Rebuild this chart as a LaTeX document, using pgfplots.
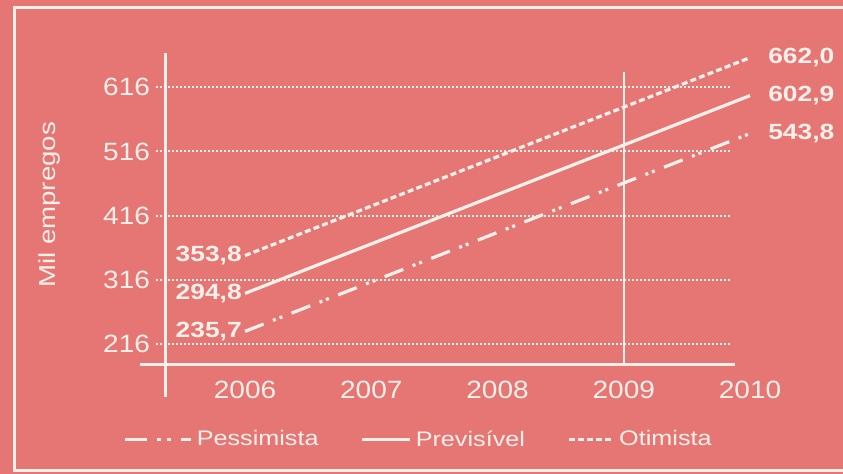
\documentclass[border=0pt]{standalone}
\usepackage{pgfplots}
\pgfplotsset{compat=1.18}
\usepackage{fontspec}
\setmainfont{Liberation Sans}[FakeStretch=1.2]
\newfontfamily\tickfont{Liberation Sans}[FakeStretch=1.12]
\definecolor{bg}{RGB}{229,118,116}
\definecolor{fg}{RGB}{255,240,234}
\pgfplotsset{
  pessleg/.style={legend image code/.code={\draw[##1, dash pattern=on 11pt off 5pt on 2pt off 3pt on 2pt off 5pt on 5pt off 5pt] (0pt,0pt) -- (33pt,0pt);}},
  prevleg/.style={legend image code/.code={\draw[##1] (0pt,0pt) -- (24pt,0pt);}},
  otimleg/.style={legend image code/.code={\draw[##1] (0pt,0pt) -- (22.5pt,0pt);}},
}
\begin{document}
\begin{tikzpicture}
\fill[bg] (-83pt,-54.5pt) rectangle (338.5pt,182.5pt);
\draw[fg, line width=1.5pt] (345pt,178.5pt) -- (-75.5pt,178.5pt) -- (-75.5pt,-53pt) -- (345pt,-53pt);
\begin{axis}[
  scale only axis, width=317pt, height=156pt,
  xmin=2005.374, xmax=2010.396, ymin=183.3, ymax=669.3,
  axis line style={draw=none}, major tick length=0pt,
  xtick={2006,2007,2008,2009,2010}, ytick={216,316,416,516,616},
  xticklabels={2006,2007,2008,2009,2010},
  yticklabels={216,316,416,516,616},
  ticklabel style={text=fg, font=\tickfont\fontsize{12.5}{14}\selectfont},
  yticklabel style={xshift=-4.5pt},
  xticklabel style={yshift=-4.5pt},
  /pgf/number format/assume math mode=true,
  clip=false,
  ylabel={Mil empregos},
  every axis y label/.style={at={(rel axis cs:-0.183,0.513)}, rotate=90, anchor=center, text=fg, font=\fontsize{11.5}{13}\selectfont},
  legend columns=3,
  legend style={at={(rel axis cs:0.400,-0.24)}, anchor=center, draw=none, fill=none, text=fg,
    font=\fontsize{10.5}{12}\selectfont, /tikz/every even column/.append style={column sep=19pt}},
]
% grid lines
\foreach \yy in {216,316,416,516,616} {
  \edef\tmp{\noexpand\draw[fg, line width=1pt, dash pattern=on 1pt off 1pt] (axis cs:2005.295,\yy) -- (axis cs:2009.857,\yy);}
  \tmp
}
% axes and reference line
\draw[fg, line width=1.5pt] (axis cs:2005.374,133.4) -- (axis cs:2005.374,669.3);
\draw[fg, line width=1.5pt] (axis cs:2005.168,183.3) -- (axis cs:2009.881,183.3);
\draw[fg, line width=1.2pt] (axis cs:2009,183.3) -- (axis cs:2009,639.7);

\addplot[fg, line width=1.6pt, dash pattern=on 10pt off 5pt on 1.5pt off 2pt on 1.5pt off 5pt, pessleg]
  coordinates {(2006,235.7) (2010,543.8)}
  node[pos=0, anchor=east, xshift=2.5pt, font=\bfseries\fontsize{11}{12}\selectfont, text=fg] {235,7}
  node[pos=1, anchor=west, xshift=5pt, font=\bfseries\fontsize{11}{12}\selectfont, text=fg] {543,8};
\addlegendentry{Pessimista}
\addplot[fg, line width=1.6pt, prevleg]
  coordinates {(2006,294.8) (2010,602.9)}
  node[pos=0, anchor=east, xshift=2.5pt, font=\bfseries\fontsize{11}{12}\selectfont, text=fg] {294,8}
  node[pos=1, anchor=west, xshift=5pt, font=\bfseries\fontsize{11}{12}\selectfont, text=fg] {602,9};
\addlegendentry{Previsível\hspace{6pt}}
\addplot[fg, line width=1.6pt, dash pattern=on 3pt off 1.6pt, otimleg]
  coordinates {(2006,353.8) (2010,662.0)}
  node[pos=0, anchor=east, xshift=2.5pt, font=\bfseries\fontsize{11}{12}\selectfont, text=fg] {353,8}
  node[pos=1, anchor=west, xshift=5pt, font=\bfseries\fontsize{11}{12}\selectfont, text=fg] {662,0};
\addlegendentry{Otimista}
\end{axis}
\pgfresetboundingbox
\useasboundingbox (-83pt,-54.5pt) rectangle (338.5pt,182.5pt);
\end{tikzpicture}
\end{document}
